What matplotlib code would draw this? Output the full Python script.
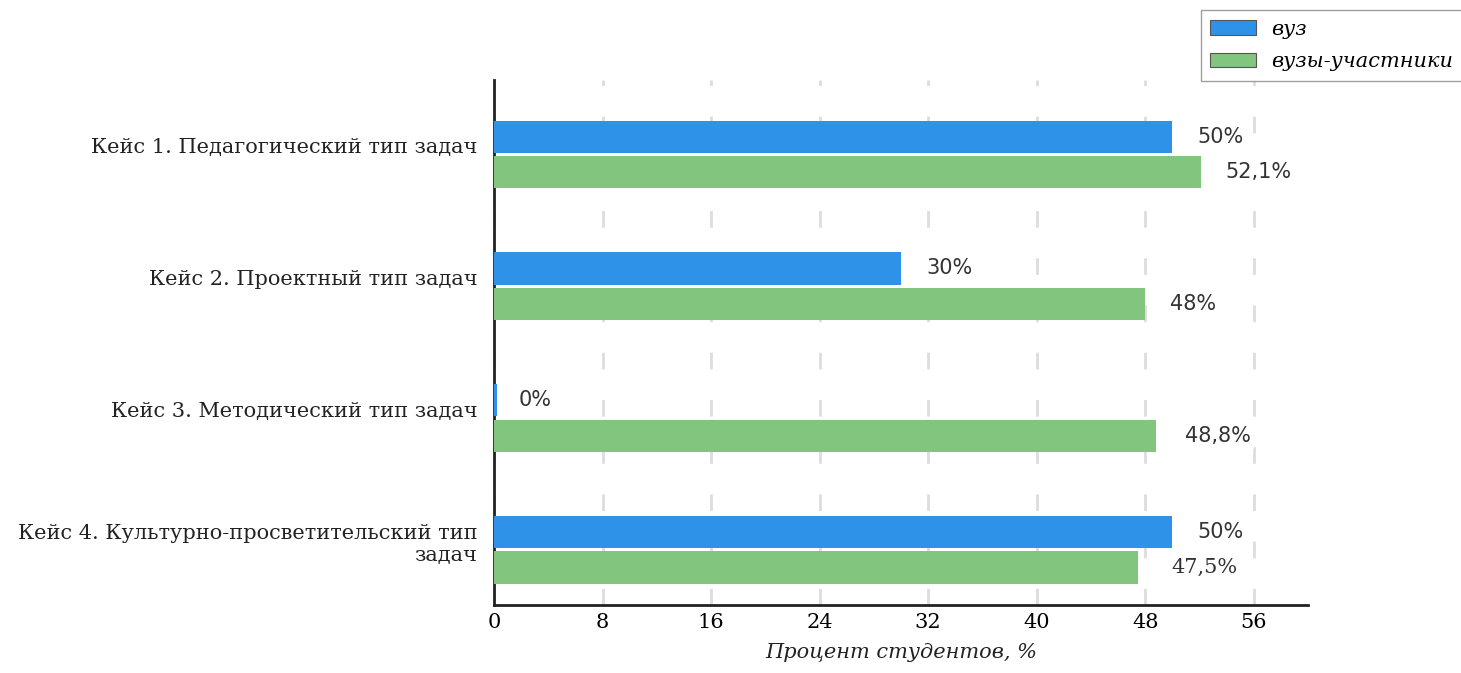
import matplotlib
matplotlib.use("Agg")
import matplotlib.pyplot as plt
import numpy as np

categories = [
    "Кейс 1. Педагогический тип задач",
    "Кейс 2. Проектный тип задач",
    "Кейс 3. Методический тип задач",
    "Кейс 4. Культурно-просветительский тип\nзадач",
]
series_names = ["вуз", "вузы-участники"]
vuz = [50, 30, 0, 50]
vuz_labels = ["50%", "30%", "0%", "50%"]
participants = [52.1, 48, 48.8, 47.5]
participants_labels = ["52,1%", "48%", "48,8%", "47,5%"]
xticks = [0, 8, 16, 24, 32, 40, 48, 56]

blue = "#2E92E8"
green = "#82C57E"
FS = 15

fig = plt.figure(figsize=(14.61, 6.73), dpi=100)
ax = fig.add_axes([494/1461, 1-605/673, (1308-494)/1461, (605-80)/673])

y = np.arange(len(categories))
h = 0.245
gap = 0.025
vuz_draw = [v if v > 0 else 0.2 for v in vuz]
b1 = ax.barh(y - h/2 - gap/2, vuz_draw, height=h, color=blue, label=series_names[0], zorder=3)
b2 = ax.barh(y + h/2 + gap/2, participants, height=h, color=green, label=series_names[1], zorder=3)

vuz_off = [18, 18, 18, 18]
part_off = [18, 18, 21, 24]
part_fam = ["DejaVu Sans", "DejaVu Sans", "DejaVu Sans", "DejaVu Serif"]
bb = dict(boxstyle="square,pad=0.15", fc="white", ec="none")

for rect, v, lab, off in zip(b1, vuz, vuz_labels, vuz_off):
    ax.annotate(lab, xy=(v, rect.get_y() + rect.get_height()/2), xytext=(off, 0),
                textcoords="offset points", va="center", ha="left",
                fontsize=FS, color="#333333", family="DejaVu Sans", bbox=bb, zorder=4)
for rect, v, lab, off, fam in zip(b2, participants, participants_labels, part_off, part_fam):
    ax.annotate(lab, xy=(v, rect.get_y() + rect.get_height()/2), xytext=(off, 0),
                textcoords="offset points", va="center", ha="left",
                fontsize=FS, color="#333333", family=fam, bbox=bb, zorder=4)

ax.set_xlim(0, 60)
ax.set_ylim(3.42, -0.566)
ax.set_xticks(xticks)
ax.set_xticklabels([str(t) for t in xticks], family="DejaVu Serif", fontsize=FS)
ax.set_yticks(y - 0.068)
ax.set_yticklabels(categories, family="DejaVu Serif", fontsize=FS, color="#222222")
ax.tick_params(axis="x", length=0, pad=6)
ax.tick_params(axis="y", length=0, pad=12)

ax.xaxis.grid(True, linestyle=(0, (6, 11)), color="#dddddd", linewidth=2, zorder=0)
ax.set_axisbelow(True)

for s in ["top", "right"]:
    ax.spines[s].set_visible(False)
for s in ["left", "bottom"]:
    ax.spines[s].set_color("#222222")
    ax.spines[s].set_linewidth(2)

ax.set_xlabel("Процент студентов, %", family="DejaVu Serif", style="italic",
              fontsize=FS, color="#222222", labelpad=8)

leg = fig.legend(loc="upper right", bbox_to_anchor=(1.008, 1.0),
                 prop={"family": "DejaVu Serif", "style": "italic", "size": FS},
                 fancybox=False, edgecolor="#888888", handlelength=2.2, handleheight=0.7,
                 borderpad=0.45, labelspacing=0.65, handletextpad=0.7)
leg.get_frame().set_linewidth(1)
for p in leg.get_patches():
    p.set_edgecolor("#555555")
    p.set_linewidth(0.8)

fig.savefig("out.png", dpi=100)
